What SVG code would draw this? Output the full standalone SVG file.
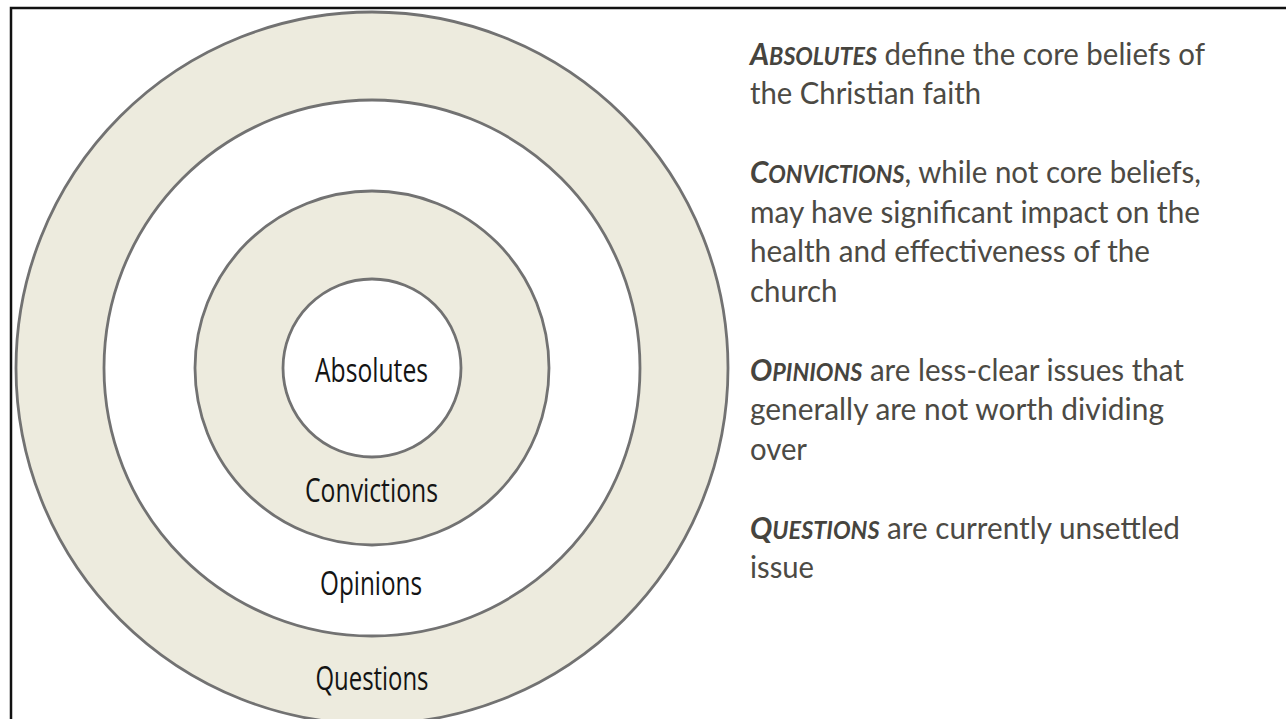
<svg xmlns="http://www.w3.org/2000/svg" width="1286" height="719" viewBox="0 0 1286 719">
<style>
.ring{stroke:#727272;stroke-width:2.8}
.beige{fill:#EDEBDE}
.white{fill:#FFFFFF}
.lbl{font-family:"Open Sans","DejaVu Sans",sans-serif;font-size:32px;fill:#141414;text-anchor:middle}
.desc{font-family:Lato,"Open Sans",sans-serif;font-size:31px;fill:#4C4A44}
.kw{font-weight:700;font-style:italic;fill:#46443E}
.sc{font-size:24.5px}
</style>
<rect x="0" y="0" width="1286" height="719" fill="#FFFFFF"/>
<path d="M11,719 V8 H1286" fill="none" stroke="#111111" stroke-width="2.5"/>
<g id="questions">
<circle class="ring beige" cx="372" cy="368" r="356"/>
<text class="lbl" x="372" y="690" textLength="113" lengthAdjust="spacingAndGlyphs">Questions</text>
</g>
<g id="opinions">
<circle class="ring white" cx="372" cy="368" r="268"/>
<text class="lbl" x="371" y="595" textLength="102" lengthAdjust="spacingAndGlyphs">Opinions</text>
</g>
<g id="convictions">
<circle class="ring beige" cx="372" cy="368" r="177"/>
<text class="lbl" x="371.5" y="502" textLength="133" lengthAdjust="spacingAndGlyphs">Convictions</text>
</g>
<g id="absolutes">
<circle class="ring white" cx="372" cy="368" r="89"/>
<text class="lbl" x="371.5" y="382" textLength="113" lengthAdjust="spacingAndGlyphs">Absolutes</text>
</g>
<g id="connectors"></g>
<g id="legend">
<text class="desc" x="750" y="64.5" textLength="455" lengthAdjust="spacingAndGlyphs"><tspan class="kw">A<tspan class="sc">BSOLUTES</tspan></tspan> define the core beliefs of</text>
<text class="desc" x="750" y="104" textLength="231" lengthAdjust="spacingAndGlyphs">the Christian faith</text>
<text class="desc" x="750" y="183" textLength="451" lengthAdjust="spacingAndGlyphs"><tspan class="kw">C<tspan class="sc">ONVICTIONS</tspan></tspan>, while not core beliefs,</text>
<text class="desc" x="750" y="222.5" textLength="450" lengthAdjust="spacingAndGlyphs">may have significant impact on the</text>
<text class="desc" x="750" y="262" textLength="400" lengthAdjust="spacingAndGlyphs">health and effectiveness of the</text>
<text class="desc" x="750" y="301.5" textLength="87.5" lengthAdjust="spacingAndGlyphs">church</text>
<text class="desc" x="750" y="380.5" textLength="434" lengthAdjust="spacingAndGlyphs"><tspan class="kw">O<tspan class="sc">PINIONS</tspan></tspan> are less-clear issues that</text>
<text class="desc" x="750" y="420" textLength="414" lengthAdjust="spacingAndGlyphs">generally are not worth dividing</text>
<text class="desc" x="750" y="459.5" textLength="57" lengthAdjust="spacingAndGlyphs">over</text>
<text class="desc" x="750" y="538.5" textLength="430" lengthAdjust="spacingAndGlyphs"><tspan class="kw">Q<tspan class="sc">UESTIONS</tspan></tspan> are currently unsettled</text>
<text class="desc" x="750" y="578" textLength="64" lengthAdjust="spacingAndGlyphs">issue</text>
</g>
</svg>
